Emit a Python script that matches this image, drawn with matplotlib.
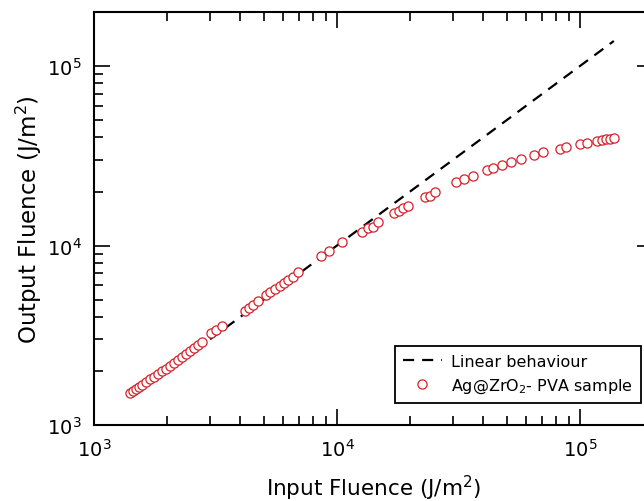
import matplotlib
matplotlib.use("Agg")
import matplotlib.pyplot as plt

plt.rcParams['font.family'] = ['DejaVu Sans']
plt.rcParams['mathtext.fontset'] = 'dejavusans'

# linear reference line (output = input)
linear_in = [1.45e3, 1.38e5]
linear_out = [1.45e3, 1.38e5]

# measured sample, input fluence (J/m^2)
sample_in = [1407, 1446, 1488, 1531, 1577, 1637, 1700, 1766, 1834, 1905,
             1978, 2054, 2133, 2216, 2301, 2391, 2483, 2580, 2679, 2783,
             3030, 3176, 3363, 4182, 4343, 4510, 4731, 5103, 5299, 5558,
             5826, 6051, 6284, 6591, 6914, 8590, 9268, 10490, 12680, 13430,
             14070, 14750, 17180, 17990, 18700, 19600, 23020, 24140, 25310, 30880,
             33330, 36310, 41430, 43840, 47760, 52020, 57170, 64690, 70500, 82790,
             87550, 100000, 106900, 117600, 123300, 128000, 132900, 138000]
# measured sample, output fluence (J/m^2)
sample_out = [1506, 1546, 1585, 1626, 1668, 1734, 1801, 1848, 1920, 1995,
              2047, 2127, 2210, 2296, 2386, 2479, 2576, 2677, 2781, 2890,
              3244, 3373, 3548, 4295, 4467, 4642, 4887, 5272, 5479, 5700,
              5916, 6152, 6392, 6640, 7079, 8690, 9268, 10400, 11970, 12590,
              12760, 13590, 15240, 15640, 16260, 16680, 18700, 18950, 19950, 22680,
              23560, 24490, 26440, 27120, 28180, 29290, 30410, 32040, 33290, 34590,
              35240, 36860, 37340, 38270, 38820, 39300, 39300, 39810]

fig = plt.figure(figsize=(6.44, 5.02), dpi=100)
ax = fig.add_axes([0.146, 0.1514, 0.868, 0.8226])

ax.plot(linear_in, linear_out, color='black', lw=1.6, dashes=(5, 3.6),
        label='Linear behaviour', zorder=2)
ax.plot(sample_in, sample_out, linestyle='none', marker='o', markersize=6.6,
        markerfacecolor='white', markeredgecolor='#d8202a', markeredgewidth=0.9,
        label='Ag@ZrO$_2$- PVA sample', zorder=3)

ax.set_xscale('log')
ax.set_yscale('log')
ax.set_xlim(1e3, 2e5)
ax.set_ylim(1e3, 2e5)

ax.tick_params(which='both', direction='in', top=True, right=True, width=1.2)
ax.tick_params(which='major', length=11.5, labelsize=14, pad=9)
ax.tick_params(which='minor', length=6.5)
for s in ax.spines.values():
    s.set_linewidth(1.5)

ax.set_xlabel('Input Fluence (J/m$^2$)', fontsize=15.5, labelpad=10)
ax.set_ylabel('Output Fluence (J/m$^2$)', fontsize=16.5, labelpad=2)

leg = ax.legend(loc='lower right', bbox_to_anchor=(641 / 644, 98 / 502),
                bbox_transform=fig.transFigure, fontsize=11.5, fancybox=False,
                edgecolor='black', framealpha=1, handlelength=2.4,
                borderpad=0.5, labelspacing=0.5, handletextpad=0.6,
                borderaxespad=0)
leg.get_frame().set_linewidth(1.3)

fig.savefig('out.png', dpi=100)
